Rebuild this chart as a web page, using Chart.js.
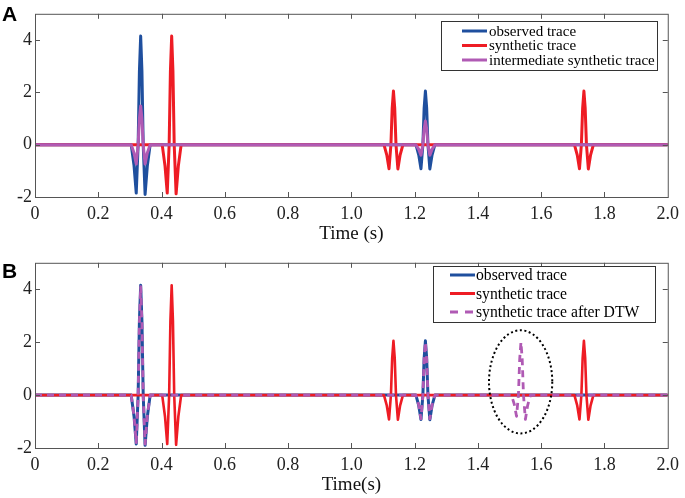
<!DOCTYPE html>
<html lang="en">
<head>
<meta charset="UTF-8" />
<title>Observed / synthetic traces and DTW</title>
<script src="https://cdn.jsdelivr.net/npm/chart.js"></script>
<style>
  body { margin: 0; background: #fff; }
  .panel { position: absolute; left: 0; width: 685px; height: 249px; }
  .letter { position: absolute; left: 2px; line-height: 1; font: bold 21px "Liberation Sans", Arial, sans-serif; color: #000; }
</style>
</head>
<body>
<div class="panel" style="top:0"><canvas id="chartA" width="685" height="249"></canvas></div>
<div class="panel" style="top:249px"><canvas id="chartB" width="685" height="249"></canvas></div>
<div class="letter" style="top:2px">A</div>
<div class="letter" style="top:259px">B</div>

<script>
// ticks
const xTicks = [0, 0.2, 0.4, 0.6, 0.8, 1.0, 1.2, 1.4, 1.6, 1.8, 2.0];
const yTicks = [-2, 0, 2, 4];

// observed trace (same in A and B)
const obsT = [0, 0.304, 0.313, 0.320, 0.326, 0.330, 0.334, 0.338, 0.342, 0.348, 0.355, 0.364,
              1.204, 1.213, 1.220, 1.226, 1.230, 1.234, 1.238, 1.242, 1.248, 1.255, 1.264, 2.0];
const obsV = [0, 0, -0.8, -1.85, 0, 2.8, 4.15, 2.8, 0, -1.9, -0.82, 0,
              0, -0.4, -0.92, 0, 1.4, 2.05, 1.4, 0, -0.93, -0.4, 0, 0];

// synthetic trace (same in A and B)
const synT = [0, 0.402, 0.411, 0.418, 0.424, 0.428, 0.432, 0.436, 0.440, 0.446, 0.453, 0.462,
              1.103, 1.112, 1.119, 1.125, 1.129, 1.133, 1.137, 1.141, 1.147, 1.154, 1.163,
              1.705, 1.714, 1.721, 1.727, 1.731, 1.735, 1.739, 1.743, 1.749, 1.756, 1.765, 2.0];
const synV = [0, 0, -0.82, -1.85, 0, 2.8, 4.15, 2.8, 0, -1.88, -0.82, 0,
              0, -0.4, -0.92, 0, 1.4, 2.05, 1.4, 0, -0.93, -0.4, 0,
              0, -0.4, -0.92, 0, 1.4, 2.05, 1.4, 0, -0.93, -0.4, 0, 0];

// intermediate synthetic trace (panel A)
const midT = [0, 0.304, 0.313, 0.320, 0.326, 0.330, 0.334, 0.338, 0.342, 0.348, 0.355, 0.364,
              1.204, 1.213, 1.220, 1.226, 1.230, 1.234, 1.238, 1.242, 1.248, 1.255, 1.264, 2.0];
const midV = [0, 0, -0.32, -0.74, 0, 1.0, 1.48, 1.0, 0, -0.74, -0.32, 0,
              0, -0.18, -0.4, 0, 0.6, 0.9, 0.6, 0, -0.4, -0.18, 0, 0];

// synthetic trace after DTW (panel B)
const dtwT = [0, 0.304, 0.313, 0.320, 0.326, 0.330, 0.334, 0.338, 0.342, 0.348, 0.355, 0.364,
              1.204, 1.213, 1.220, 1.226, 1.230, 1.234, 1.238, 1.242, 1.248, 1.255, 1.264,
              1.506, 1.515, 1.522, 1.528, 1.532, 1.536, 1.540, 1.544, 1.550, 1.557, 1.566, 2.0];
const dtwV = [0, 0, -0.78, -1.8, 0, 2.75, 4.1, 2.75, 0, -1.85, -0.78, 0,
              0, -0.38, -0.9, 0, 1.35, 2.0, 1.35, 0, -0.9, -0.38, 0,
              0, -0.35, -0.8, 0, 1.35, 2.0, 1.35, 0, -0.92, -0.4, 0, 0];

// dotted ellipse in panel B (data units)
const ringB = { x: 1.535, y: 0.5, rx: 0.1, ry: 1.95 };

const BLUE = '#1f4f9e';
const RED = '#ee1c24';
const PURPLE = '#b05ab4';
const SERIF = '"Liberation Serif", "Times New Roman", serif';

function pts(t, v) {
  return t.map((x, i) => ({ x: x, y: v[i] }));
}

// box, inward ticks, legend and the ellipse
const framePlugin = {
  id: 'frame',
  afterDraw(chart, args, opts) {
    const ctx = chart.ctx;
    const a = chart.chartArea;
    const xs = chart.scales.x, ys = chart.scales.y;
    ctx.save();
    ctx.strokeStyle = '#555';
    ctx.lineWidth = 1;
    ctx.strokeRect(a.left + 0.5, a.top + 0.5, a.right - a.left, a.bottom - a.top);
    ctx.beginPath();
    xTicks.forEach(v => {
      if (v === xs.min || v === xs.max) return;
      const px = Math.round(xs.getPixelForValue(v)) + 0.5;
      ctx.moveTo(px, a.bottom); ctx.lineTo(px, a.bottom - 5);
      ctx.moveTo(px, a.top); ctx.lineTo(px, a.top + 5);
    });
    yTicks.forEach(v => {
      if (v === ys.min) return;
      const py = Math.round(ys.getPixelForValue(v)) + 0.5;
      ctx.moveTo(a.left, py); ctx.lineTo(a.left + 5, py);
      ctx.moveTo(a.right, py); ctx.lineTo(a.right - 5, py);
    });
    ctx.stroke();

    if (opts.ring) {
      const r = opts.ring;
      const cx = xs.getPixelForValue(r.x), cy = ys.getPixelForValue(r.y);
      const rx = Math.abs(xs.getPixelForValue(r.x + r.rx) - cx);
      const ry = Math.abs(ys.getPixelForValue(r.y + r.ry) - cy);
      ctx.beginPath();
      ctx.setLineDash([2, 2.6]);
      ctx.lineWidth = 2;
      ctx.strokeStyle = '#000';
      ctx.ellipse(cx, cy, rx, ry, 0, 0, Math.PI * 2);
      ctx.stroke();
      ctx.setLineDash([]);
    }

    const L = opts.legend;
    ctx.fillStyle = '#fff';
    ctx.fillRect(L.left, L.top, L.width, L.height);
    ctx.strokeStyle = '#333';
    ctx.lineWidth = 1;
    ctx.strokeRect(L.left + 0.5, L.top + 0.5, L.width, L.height);
    ctx.font = L.font;
    ctx.textBaseline = 'middle';
    ctx.textAlign = 'left';
    chart.data.datasets.forEach((ds, i) => {
      const y = L.top + L.first + i * L.step;
      ctx.beginPath();
      ctx.strokeStyle = ds.borderColor;
      ctx.lineWidth = 3;
      ctx.setLineDash(ds.borderDash ? [8, 7] : []);
      ctx.moveTo(L.lineX, y);
      ctx.lineTo(L.lineX + L.lineLen, y);
      ctx.stroke();
      ctx.setLineDash([]);
      ctx.fillStyle = '#000';
      ctx.fillText(ds.label, L.textX, y + 1);
    });
    ctx.restore();
  }
};

function makeChart(id, datasets, padTop, xHeight, titleText, titlePad, frameOpts) {
  return new Chart(document.getElementById(id), {
    type: 'line',
    data: { datasets: datasets },
    options: {
      responsive: false,
      animation: false,
      layout: { padding: { top: padTop, right: 17, left: 0, bottom: 0 } },
      elements: { point: { radius: 0 }, line: { tension: 0, borderJoinStyle: 'round' } },
      plugins: {
        legend: { display: false },
        tooltip: { enabled: false },
        frame: frameOpts
      },
      scales: {
        x: {
          type: 'linear',
          min: 0, max: 2.0,
          grid: { display: false, drawTicks: false },
          border: { display: false },
          afterBuildTicks: s => { s.ticks = xTicks.map(v => ({ value: v })); },
          afterFit: s => { s.height = xHeight; },
          ticks: {
            autoSkip: false, maxRotation: 0, padding: 6,
            color: '#222', font: { family: SERIF, size: 18 },
            callback: v => v === 0 ? '0' : v.toFixed(1)
          },
          title: {
            display: true, text: titleText, color: '#111',
            font: { family: SERIF, size: 19 },
            padding: { top: 0, bottom: titlePad }
          }
        },
        y: {
          min: -2, max: 5,
          grid: { display: false, drawTicks: false },
          border: { display: false },
          afterBuildTicks: s => { s.ticks = yTicks.map(v => ({ value: v })); },
          afterFit: s => { s.width = 35; },
          ticks: { padding: 3, color: '#222', font: { family: SERIF, size: 18 } }
        }
      }
    },
    plugins: [framePlugin]
  });
}

makeChart('chartA', [
  { label: 'observed trace', data: pts(obsT, obsV), borderColor: BLUE, borderWidth: 3, order: 2 },
  { label: 'synthetic trace', data: pts(synT, synV), borderColor: RED, borderWidth: 3, order: 1 },
  { label: 'intermediate synthetic trace', data: pts(midT, midV), borderColor: PURPLE, borderWidth: 3, order: 0 }
], 11, 52, 'Time (s)', 4, {
  legend: { left: 441, top: 21, width: 216, height: 49, first: 10, step: 14.5,
            lineX: 462, lineLen: 25, textX: 489, font: '15px ' + SERIF }
});

makeChart('chartB', [
  { label: 'observed trace', data: pts(obsT, obsV), borderColor: BLUE, borderWidth: 3, order: 2 },
  { label: 'synthetic trace', data: pts(synT, synV), borderColor: RED, borderWidth: 2.6, order: 1 },
  { label: 'synthetic trace after DTW', data: pts(dtwT, dtwV), borderColor: PURPLE, borderWidth: 2.8,
    borderDash: [7, 5], order: 0 }
], 13, 50, 'Time(s)', 2, {
  ring: ringB,
  legend: { left: 433, top: 17, width: 222, height: 56, first: 9, step: 18.5,
            lineX: 450, lineLen: 25, textX: 476, font: '15.7px ' + SERIF }
});
</script>
</body>
</html>
